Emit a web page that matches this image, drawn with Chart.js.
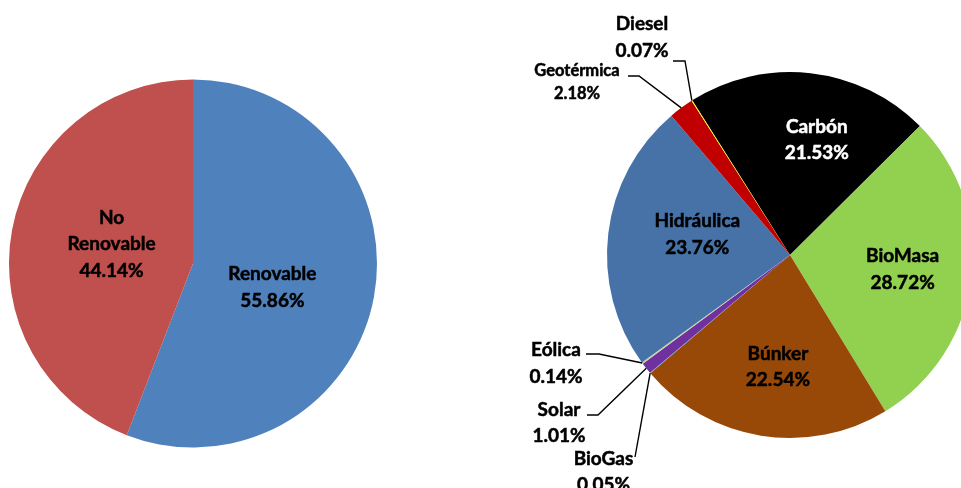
<!DOCTYPE html>
<html>
<head>
<meta charset="utf-8">
<script src="https://cdn.jsdelivr.net/npm/chart.js@4.4.1/dist/chart.umd.min.js"></script>
<style>
    html, body { margin: 0; padding: 0; background: #fff; overflow: hidden; }
    #wrap { position: relative; width: 961px; height: 488px; overflow: hidden; }
    .box { position: absolute; left: 0; top: 0; height: 488px; }
    #leftBox { width: 961px; }
    #rightBox { width: 1000px; }
</style>
</head>
<body>
<div id="wrap">
    <div class="box" id="leftBox"><canvas id="tipoChart"></canvas></div>
    <div class="box" id="rightBox"><canvas id="fuenteChart"></canvas></div>
</div>
<script>
// data
const tipoLabels = ['Renovable', 'No Renovable'];
const tipoValues = [55.86, 44.14];

const fuenteLabels = ['Carbón', 'BioMasa', 'Búnker', 'BioGas', 'Solar', 'Eólica', 'Hidráulica', 'Geotérmica', 'Diesel'];
const fuenteValues = [21.53, 28.72, 22.54, 0.05, 1.01, 0.14, 23.76, 2.18, 0.07];

const tipoColors = ['#4F81BD', '#C0504D'];
const fuenteColors = ['#000000', '#92D050', '#984807', '#4BACC6', '#7030A0', '#C4D79B', '#4672A8', '#C00000', '#FFFF00'];

const FONT = 'Lato, "DejaVu Sans", sans-serif';
const SIZE = 19;

// label layout: inside labels sit on the slice's mid angle, callouts get a text spot + elbow
const tipoLayout = {
    radius: 0.45,
    inside: {
        'Renovable': { nudge: [-2, 8] },
        'No Renovable': { nudge: [0, -5] }
    },
    callouts: {}
};

const fuenteLayout = {
    radius: 0.62,
    inside: {
        'Carbón': { nudge: [14, -3], color: '#fff' },
        'BioMasa': { nudge: [0, 0] },
        'Búnker': { nudge: [6, -1] },
        'Hidráulica': { nudge: [20, -8] }
    },
    callouts: {
        'Diesel': { at: [642, 23.5], elbow: [[673, 61], [685, 61]] },
        'Geotérmica': { at: [577, 70.5], size: 16.5, lineH: 23, elbow: [[628, 76], [639, 76]] },
        'Eólica': { at: [556, 349.5], elbow: [[586, 354], [599, 354]] },
        'Solar': { at: [559, 409], elbow: [[587, 415], [598, 415]] },
        'BioGas': { at: [603.5, 458], elbow: [[635, 457]] }
    }
};

function textLines(label, value) {
    return label.split(' ').concat(value.toFixed(2) + '%');
}

function drawLines(ctx, lines, cx, firstY, size, lineH, color) {
    ctx.font = 'bold ' + size + 'px ' + FONT;
    ctx.fillStyle = color || '#000';
    ctx.strokeStyle = color || '#000';
    ctx.lineWidth = 0.5;
    ctx.textAlign = 'center';
    ctx.textBaseline = 'alphabetic';
    lines.forEach((t, k) => {
        const y = firstY + k * lineH + size * 0.36;
        ctx.fillText(t, cx, y);
        ctx.strokeText(t, cx, y);
    });
}

const pieLabelPlugin = {
    id: 'pieLabels',
    afterDatasetsDraw(chart, args, opts) {
        const ctx = chart.ctx;
        const meta = chart.getDatasetMeta(0);
        const labels = chart.data.labels;
        const values = chart.data.datasets[0].data;
        const layout = opts.layout;

        ctx.save();
        meta.data.forEach((arc, i) => {
            const p = arc.getProps(['x', 'y', 'startAngle', 'endAngle', 'outerRadius'], true);
            const mid = (p.startAngle + p.endAngle) / 2;
            const lines = textLines(labels[i], values[i]);
            const inside = layout.inside[labels[i]];
            const call = layout.callouts[labels[i]];

            if (inside) {
                const r = p.outerRadius * layout.radius;
                const cx = p.x + r * Math.cos(mid) + inside.nudge[0];
                const cy = p.y + r * Math.sin(mid) + inside.nudge[1];
                const lineH = 26.5;
                const firstY = cy - (lines.length - 1) * lineH / 2;
                drawLines(ctx, lines, cx, firstY, SIZE, lineH, inside.color);
            } else if (call) {
                const ax = p.x + p.outerRadius * Math.cos(mid);
                const ay = p.y + p.outerRadius * Math.sin(mid);
                ctx.beginPath();
                ctx.strokeStyle = '#000';
                ctx.lineWidth = 1.4;
                call.elbow.forEach((pt, k) => {
                    if (k === 0) ctx.moveTo(pt[0], pt[1]);
                    else ctx.lineTo(pt[0], pt[1]);
                });
                ctx.lineTo(ax, ay);
                ctx.stroke();
                drawLines(ctx, lines, call.at[0], call.at[1], call.size || SIZE, call.lineH || 26.5);
            }
        });
        ctx.restore();
    }
};

function makePie(canvasId, labels, values, colors, rotation, padding, layout) {
    const ctx = document.getElementById(canvasId).getContext('2d');
    return new Chart(ctx, {
        type: 'pie',
        data: {
            labels: labels,
            datasets: [{
                data: values,
                backgroundColor: colors,
                borderWidth: 0,
                hoverOffset: 0
            }]
        },
        options: {
            responsive: true,
            maintainAspectRatio: false,
            animation: false,
            rotation: rotation,
            layout: { padding: padding },
            events: [],
            plugins: {
                legend: { display: false },
                tooltip: { enabled: false },
                pieLabels: { layout: layout }
            }
        },
        plugins: [pieLabelPlugin]
    });
}

// left pie: centre (193, 263.5), radius 184
makePie('tipoChart', tipoLabels, tipoValues, tipoColors, 0,
    { left: 9, right: 961 - 377, top: 79.5, bottom: 488 - 447.5 }, tipoLayout);

// right pie: centre (790, 255), radius 183
makePie('fuenteChart', fuenteLabels, fuenteValues, fuenteColors, -32.3,
    { left: 607, right: 1000 - 973, top: 72, bottom: 488 - 438 }, fuenteLayout);
</script>
</body>
</html>
